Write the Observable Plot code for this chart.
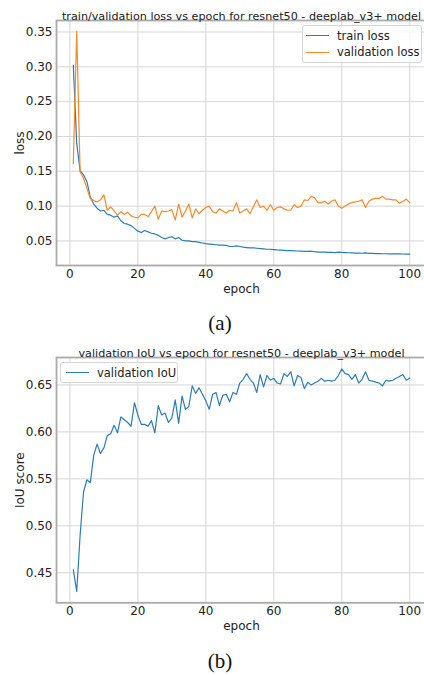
<!DOCTYPE html>
<html><head><meta charset="utf-8">
<script src="https://cdn.jsdelivr.net/npm/d3@7"></script>
<script src="https://cdn.jsdelivr.net/npm/@observablehq/plot@0.6"></script>
<style>
html,body{margin:0;padding:0;background:#fff;overflow:hidden;}
#wrap{position:relative;width:424px;height:675px;overflow:hidden;font-family:"DejaVu Sans",sans-serif;}
.chart{position:absolute;left:0;}
.chart svg{max-width:none;}
.cap{position:absolute;left:0;width:440px;text-align:center;font-family:"Liberation Serif","Times New Roman",serif;font-size:21px;color:#111;line-height:1;}
.legend{position:absolute;background:rgba(255,255,255,0.85);border:1px solid #d6d6d6;border-radius:3px;font-size:11.5px;color:#222;box-sizing:border-box;}
.legend .item{position:absolute;left:0;height:14px;white-space:nowrap;}
.legend .sw{position:absolute;top:6.5px;height:0;border-top:1.3px solid;}
.legend .lbl{position:absolute;top:0;line-height:14px;}
</style>
</head><body>
<div id="wrap">
  <div class="chart" id="c1" style="top:0"></div>
  <div class="chart" id="c2" style="top:336px"></div>
  <div class="cap" style="top:313px">(a)</div>
  <div class="cap" style="top:651px">(b)</div>
  <div class="legend" id="leg1" style="left:302px;top:25px;width:120px;height:38px"></div>
  <div class="legend" id="leg2" style="left:60px;top:362px;width:118px;height:21px"></div>
</div>
<script>
const epochs = Array.from({length: 100}, (_, i) => i + 1);

const trainLoss = [0.302,0.19,0.151,0.145,0.135,0.113,0.103,0.097,0.093,0.094,
0.088,0.087,0.084,0.086,0.079,0.075,0.074,0.072,0.068,0.064,
0.062,0.065,0.063,0.061,0.06,0.058,0.055,0.053,0.055,0.056,
0.053,0.055,0.051,0.050,0.050,0.049,0.049,0.048,0.047,0.046,
0.0455,0.045,0.0445,0.044,0.044,0.0435,0.042,0.042,0.043,0.042,
0.041,0.0405,0.040,0.040,0.0395,0.039,0.0385,0.038,0.038,0.0375,
0.037,0.0368,0.0365,0.036,0.036,0.0358,0.0355,0.0352,0.035,0.035,
0.0352,0.0345,0.034,0.034,0.0338,0.0335,0.0335,0.0333,0.034,0.0335,
0.0332,0.033,0.0328,0.0326,0.0325,0.0323,0.0328,0.032,0.032,0.0318,
0.0318,0.0316,0.0316,0.0315,0.0314,0.0313,0.0313,0.0312,0.0311,0.031];

const valLoss = [0.161,0.351,0.149,0.14,0.125,0.111,0.108,0.106,0.109,0.116,
0.094,0.099,0.093,0.087,0.092,0.088,0.091,0.086,0.084,0.083,
0.088,0.088,0.085,0.092,0.1,0.081,0.093,0.092,0.093,0.095,
0.080,0.103,0.084,0.093,0.103,0.083,0.096,0.089,0.094,0.098,
0.1,0.092,0.09,0.096,0.093,0.09,0.094,0.093,0.105,0.09,
0.093,0.096,0.089,0.099,0.109,0.098,0.1,0.094,0.102,0.094,
0.098,0.099,0.096,0.094,0.094,0.102,0.098,0.1,0.109,0.108,
0.114,0.112,0.105,0.105,0.107,0.103,0.107,0.109,0.1,0.097,
0.1,0.103,0.105,0.106,0.107,0.109,0.098,0.107,0.11,0.111,
0.111,0.114,0.11,0.11,0.109,0.109,0.104,0.107,0.11,0.105];

const valIoU = [0.453,0.430,0.490,0.536,0.549,0.546,0.575,0.587,0.577,0.583,
0.596,0.598,0.607,0.599,0.616,0.613,0.610,0.606,0.631,0.618,
0.608,0.608,0.606,0.612,0.599,0.628,0.618,0.620,0.610,0.615,
0.634,0.609,0.638,0.624,0.627,0.649,0.641,0.647,0.640,0.633,
0.624,0.640,0.642,0.628,0.639,0.640,0.632,0.642,0.640,0.652,
0.656,0.662,0.656,0.652,0.642,0.661,0.648,0.660,0.655,0.657,
0.652,0.651,0.662,0.659,0.664,0.649,0.660,0.658,0.646,0.653,
0.650,0.652,0.654,0.657,0.654,0.655,0.654,0.655,0.660,0.667,
0.662,0.661,0.656,0.661,0.652,0.656,0.664,0.655,0.654,0.653,
0.652,0.649,0.655,0.654,0.655,0.657,0.659,0.661,0.655,0.657];

const xTicks = [0, 20, 40, 60, 80, 100];
const lossTicks = [0.05, 0.10, 0.15, 0.20, 0.25, 0.30, 0.35];
const iouTicks = [0.45, 0.50, 0.55, 0.60, 0.65];

const titleLoss = "train/validation loss vs epoch for resnet50 - deeplab_v3+ model";
const titleIoU = "validation IoU vs epoch for resnet50 - deeplab_v3+ model";
const seriesLoss = ["train loss", "validation loss"];
const seriesIoU = ["validation IoU"];
const blue = "#2a7db8", orange = "#fa8a28";

const lossRows = epochs.map((e, i) => ({epoch: e, train: trainLoss[i], val: valLoss[i]}));
const iouRows = epochs.map((e, i) => ({epoch: e, iou: valIoU[i]}));

const common = {
  width: 424, height: 300, marginLeft: 56, marginRight: -2,
  style: {fontFamily: "DejaVu Sans, sans-serif", fontSize: "12px", color: "#222", background: "transparent", overflow: "visible"}
};
const gridStyle = {stroke: "#d6d6d6", strokeOpacity: 1, strokeWidth: 1};

const p1 = Plot.plot({
  ...common, marginTop: 20, marginBottom: 35,
  x: {domain: [-3.95, 104.95], ticks: xTicks, tickSize: 0, tickPadding: 4, label: "epoch", labelAnchor: "center", labelArrow: "none", labelOffset: 27},
  y: {domain: [0.0147, 0.3665], ticks: lossTicks, tickFormat: d3.format(".2f"), tickSize: 0, tickPadding: 4, label: "loss", labelAnchor: "center", labelArrow: "none", labelOffset: 41},
  marks: [
    Plot.gridX(xTicks, gridStyle),
    Plot.gridY(lossTicks, gridStyle),
    Plot.frame({stroke: "#aaaaaa", strokeWidth: 1.8}),
    Plot.lineY(lossRows, {x: "epoch", y: "train", stroke: blue, strokeWidth: 1.2}),
    Plot.lineY(lossRows, {x: "epoch", y: "val", stroke: orange, strokeWidth: 1.2}),
    Plot.text([titleLoss], {frameAnchor: "top", dy: -8, fontSize: 11.2, fill: "#222"})
  ]
});
document.getElementById("c1").appendChild(p1);

const p2 = Plot.plot({
  ...common, marginTop: 21, marginBottom: 33.7,
  x: {domain: [-3.95, 104.95], ticks: xTicks, tickSize: 0, tickPadding: 4, label: "epoch", labelAnchor: "center", labelArrow: "none", labelOffset: 27},
  y: {domain: [0.418, 0.6792], ticks: iouTicks, tickFormat: d3.format(".2f"), tickSize: 0, tickPadding: 4, label: "IoU score", labelAnchor: "center", labelArrow: "none", labelOffset: 41},
  marks: [
    Plot.gridX(xTicks, gridStyle),
    Plot.gridY(iouTicks, gridStyle),
    Plot.frame({stroke: "#aaaaaa", strokeWidth: 1.8}),
    Plot.lineY(iouRows, {x: "epoch", y: "iou", stroke: blue, strokeWidth: 1.2}),
    Plot.text([titleIoU], {frameAnchor: "top", dy: -8, fontSize: 11.2, fill: "#222"})
  ]
});
document.getElementById("c2").appendChild(p2);

function legend(el, names, colors, y0, step, swLeft, txtLeft) {
  names.forEach((n, i) => {
    const it = document.createElement("div");
    it.className = "item";
    it.style.top = (y0 + i * step) + "px";
    const sw = document.createElement("div");
    sw.className = "sw";
    sw.style.left = swLeft + "px";
    sw.style.width = "23px";
    sw.style.borderColor = colors[i];
    const t = document.createElement("div");
    t.className = "lbl";
    t.style.left = txtLeft + "px";
    t.textContent = n;
    it.appendChild(sw); it.appendChild(t);
    el.appendChild(it);
  });
}
legend(document.getElementById("leg1"), seriesLoss, [blue, orange], 2.5, 16.5, 3, 34);
legend(document.getElementById("leg2"), seriesIoU, [blue], 2.5, 0, 5, 36);
</script>
</body></html>
